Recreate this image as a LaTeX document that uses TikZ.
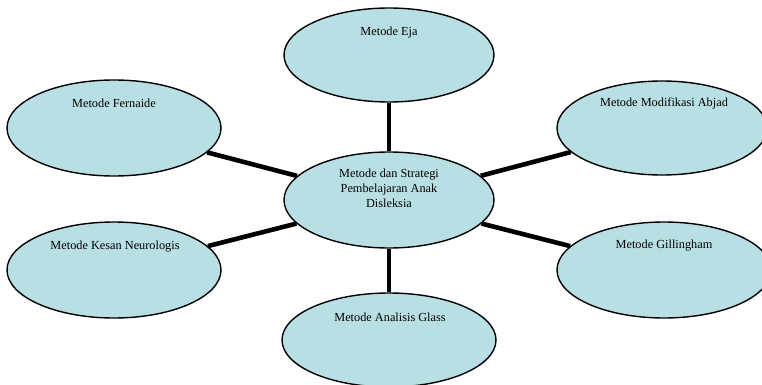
\documentclass[tikz,border=0pt]{standalone}
\usepackage{fontspec}
\setmainfont{Liberation Serif}
\usetikzlibrary{shapes.geometric}
\definecolor{bubble}{HTML}{B8DFE3}
\tikzset{
  bub/.style={ellipse, draw=black, line width=1.4pt, fill=bubble, inner sep=0pt,
    minimum width=212pt, minimum height=95pt},
  txt/.style={font=\fontsize{12.3}{15}\selectfont, align=center, inner sep=0pt},
  link/.style={line width=4.6pt, draw=black}
}
\begin{document}
\begin{tikzpicture}[x=1pt,y=-1pt]
\clip (0,0) rectangle (762,385);
\useasboundingbox (0,0) rectangle (762,385);
\node[bub, minimum width=210pt, minimum height=94pt] (eja) at (389,55) {};
\node[bub, minimum width=210pt, minimum height=96pt] (ctr) at (389,200) {};
\node[bub, minimum width=214pt, minimum height=96pt] (fern) at (114,128) {};
\node[bub, minimum width=210pt, minimum height=94pt] (abjad) at (662,128) {};
\node[bub, minimum width=214pt, minimum height=96pt] (kesan) at (114,270) {};
\node[bub, minimum width=214pt, minimum height=96pt] (gill) at (664,270) {};
\node[bub, minimum width=214pt, minimum height=94pt] (glass) at (389,340) {};
\draw[link] (eja) -- (ctr);
\draw[link] (glass) -- (ctr);
\draw[link] (fern) -- (ctr);
\draw[link] (kesan) -- (ctr);
\draw[link] (abjad) -- (ctr);
\draw[link] (gill) -- (ctr);
\node[txt] (teja) at (389,33) {Metode Eja};
\node[txt] (tctr) at (389,188) {Metode dan Strategi\\Pembelajaran Anak\\Disleksia};
\node[txt] (tfern) at (114,103) {Metode Fernaide};
\node[txt] (tabjad) at (664,103) {Metode Modifikasi Abjad};
\node[txt] (tkesan) at (115,247) {Metode Kesan Neurologis};
\node[txt] (tgill) at (664,246) {Metode Gillingham};
\node[txt] (tglass) at (390,317) {Metode Analisis Glass};
\end{tikzpicture}
\end{document}
